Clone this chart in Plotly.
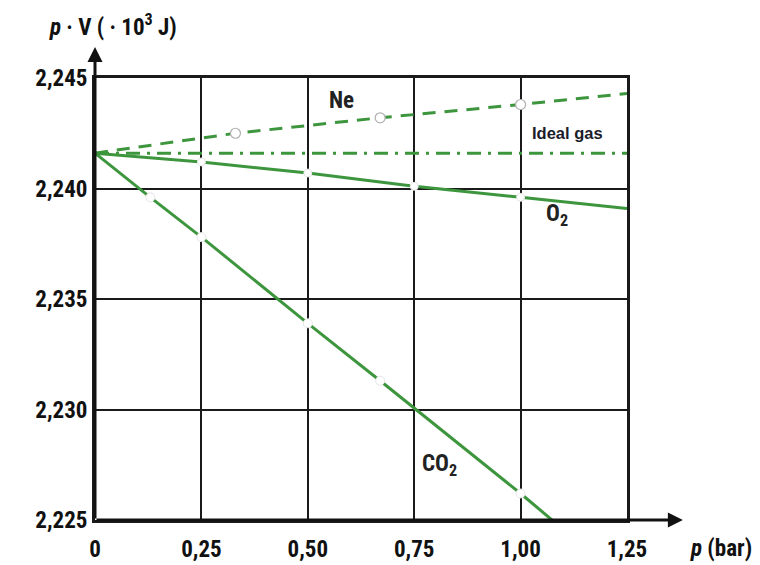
import plotly.graph_objects as go

# Data (p in bar, pV in 10^3 J)
p_ideal = [0, 1.25]
pv_ideal = [2.2416, 2.2416]

p_ne = [0, 0.33, 0.67, 1.0, 1.25]
pv_ne = [2.2416, 2.2425, 2.2432, 2.2438, 2.2443]

p_o2 = [0, 0.25, 0.5, 0.75, 1.0, 1.25]
pv_o2 = [2.2416, 2.2412, 2.2407, 2.2401, 2.2396, 2.2391]

p_co2 = [0, 0.13, 0.25, 0.5, 0.67, 1.0, 1.08]
pv_co2 = [2.2416, 2.2396, 2.2378, 2.2339, 2.2313, 2.2262, 2.2249]

x_tickvals = [0, 0.25, 0.5, 0.75, 1.0, 1.25]
x_ticktext = ["0", "0,25", "0,50", "0,75", "1,00", "1,25"]
y_tickvals = [2.225, 2.230, 2.235, 2.240, 2.245]
y_ticktext = ["2,225", "2,230", "2,235", "2,240", "2,245"]

GREEN = "#3d963d"
FONT = "Roboto Condensed, Open Sans Condensed, sans-serif"

fig = go.Figure()

fig.add_trace(go.Scatter(x=p_ideal, y=pv_ideal, mode="lines",
                         line=dict(color=GREEN, width=3, dash="14px,7px,3px,7px"),
                         showlegend=False, hoverinfo="skip"))
fig.add_trace(go.Scatter(x=p_ne, y=pv_ne, mode="lines",
                         line=dict(color=GREEN, width=3, dash="13px,9px"),
                         showlegend=False, hoverinfo="skip"))
fig.add_trace(go.Scatter(x=p_o2, y=pv_o2, mode="lines",
                         line=dict(color=GREEN, width=3),
                         showlegend=False, hoverinfo="skip"))
fig.add_trace(go.Scatter(x=p_co2, y=pv_co2, mode="lines",
                         line=dict(color=GREEN, width=3),
                         showlegend=False, hoverinfo="skip"))

# open-circle markers (gaps in the lines)
fig.add_trace(go.Scatter(x=p_ne[1:4], y=pv_ne[1:4], mode="markers",
                         marker=dict(color="white", size=10, line=dict(color="#b0b0b0", width=1.2)),
                         showlegend=False, hoverinfo="skip"))
fig.add_trace(go.Scatter(x=p_o2[1:5], y=pv_o2[1:5], mode="markers",
                         marker=dict(color="white", size=8, line=dict(color="#e6e6e6", width=1)),
                         showlegend=False, hoverinfo="skip"))
fig.add_trace(go.Scatter(x=p_co2[1:6], y=pv_co2[1:6], mode="markers",
                         marker=dict(color="white", size=9, line=dict(color="#e6e6e6", width=1)),
                         showlegend=False, hoverinfo="skip"))

annotations = [
    dict(x=0.58, y=2.2440, text="<b>Ne</b>", showarrow=False, font=dict(size=23, color="#222", family=FONT), xref="x", yref="y"),
    dict(x=1.085, y=2.2388, text="<b>O<sub>2</sub></b>", showarrow=False, font=dict(size=23, color="#222", family=FONT), xref="x", yref="y"),
    dict(x=0.81, y=2.2275, text="<b>CO<sub>2</sub></b>", showarrow=False, font=dict(size=23, color="#222", family=FONT), xref="x", yref="y"),
    dict(x=1.022, y=2.2425, text="<b>Ideal gas</b>", showarrow=False, xanchor="left",
         font=dict(size=16.5, color="#1c1c2a", family="Liberation Sans, Arial, sans-serif"), xref="x", yref="y"),
    # axis titles
    dict(x=-0.09, y=1.118, xref="paper", yref="paper", xanchor="left", yanchor="middle",
         text="<b><i>p</i> · V ( · 10<sup>3</sup> J)</b>", showarrow=False,
         font=dict(size=23, color="#111", family=FONT)),
    dict(x=1.115, y=-0.065, xref="paper", yref="paper", xanchor="left", yanchor="middle",
         text="<b><i>p</i> (bar)</b>", showarrow=False,
         font=dict(size=23, color="#111", family=FONT)),
    # axis arrows
    dict(x=1.105, y=0, ax=0, ay=0, xref="x domain", yref="y domain", axref="x domain", ayref="y domain",
         showarrow=True, arrowhead=2, arrowsize=1, arrowwidth=3, arrowcolor="#111", text=""),
    dict(x=0, y=1.07, ax=0, ay=0, xref="x domain", yref="y domain", axref="x domain", ayref="y domain",
         showarrow=True, arrowhead=2, arrowsize=1, arrowwidth=3, arrowcolor="#111", text=""),
]

fig.update_layout(
    width=752, height=557,
    margin=dict(l=87, r=133, t=70, b=45),
    paper_bgcolor="white", plot_bgcolor="white",
    annotations=annotations,
    showlegend=False,
)
fig.update_xaxes(range=[0, 1.25], tickvals=x_tickvals,
                 ticktext=["<b>" + t + "</b>" for t in x_ticktext],
                 showgrid=True, gridcolor="#1a1a1a", gridwidth=2,
                 showline=True, linecolor="#1a1a1a", linewidth=3, mirror=True,
                 zeroline=False, ticks="", ticklen=0, ticklabelstandoff=6,
                 automargin=False,
                 tickfont=dict(size=23, color="#111", family=FONT))
fig.update_yaxes(range=[2.225, 2.245], tickvals=y_tickvals,
                 ticktext=["<b>" + t + "</b>" for t in y_ticktext],
                 showgrid=True, gridcolor="#1a1a1a", gridwidth=2,
                 showline=True, linecolor="#1a1a1a", linewidth=3, mirror=True,
                 zeroline=False, ticks="", ticklen=0, automargin=False,
                 tickfont=dict(size=23, color="#111", family=FONT))

fig.write_html("out.html")
